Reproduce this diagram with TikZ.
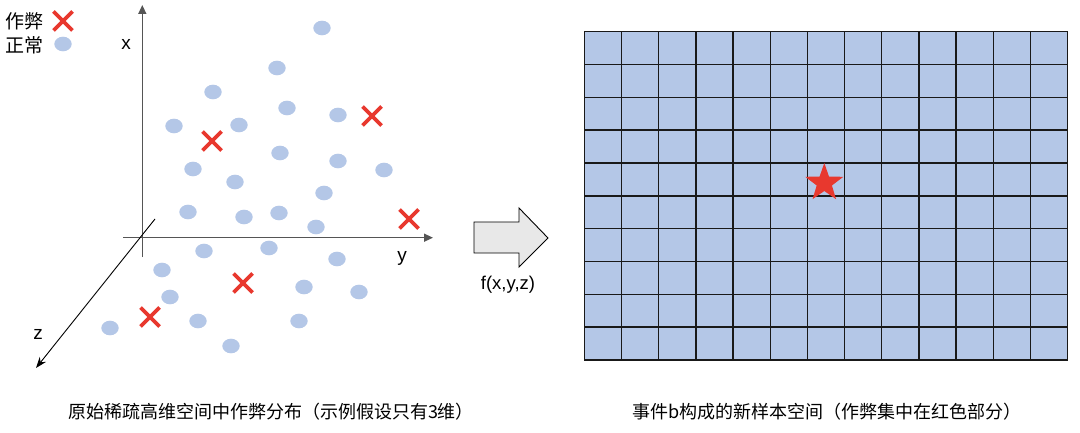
\documentclass[tikz,border=0pt]{standalone}
\usepackage{fontspec}
\setmainfont{Liberation Sans}
\newfontfamily\cjk{Noto Sans CJK SC}
\usetikzlibrary{shapes.geometric,arrows.meta}
\definecolor{dotblue}{HTML}{B4C7E7}
\definecolor{xred}{HTML}{E8382E}
\definecolor{axisgray}{HTML}{555555}
\definecolor{arrowfill}{HTML}{E8E8E8}
\tikzset{
  dotmark/.style={fill=dotblue},
  crossmark/.style={draw=xred,line width=3.6pt},
  axisline/.style={draw=axisgray,line width=1.4pt,-{Triangle[length=9pt,width=8pt]}},
  zaxis/.style={draw=black,line width=0.9pt,-{Stealth[length=11pt,width=8pt]}},
  gridline/.style={draw=black!90,line width=1.4pt},
  lbl/.style={inner sep=0pt,font=\fontsize{19}{20}\selectfont},
  captext/.style={inner sep=0pt,font=\cjk\fontsize{18}{20}\selectfont},
  legtext/.style={inner sep=0pt,font=\cjk\fontsize{19}{20}\selectfont},
}
\begin{document}
\begin{tikzpicture}[x=1pt,y=-1pt]
\useasboundingbox (0,0) rectangle (1080,433);
% legend
\node[legtext] (legX) at (24.5,21) {作弊};
\node[legtext] (legO) at (24.5,45) {正常};
\draw[crossmark] (53.5,11.5) -- (72.5,30.5) (53.5,30.5) -- (72.5,11.5);
\fill[dotmark] (63,44) ellipse (8.7 and 7.3);
% axes
\coordinate (orig) at (142.3,237.7);
\coordinate (xtop) at (142.3,5);
\coordinate (xbot) at (142.3,257);
\coordinate (yleft) at (123,237.7);
\coordinate (yend) at (433,237.7);
\coordinate (zstart) at (155,219);
\coordinate (zend) at (36,368);
\draw[axisline] (xbot) -- (xtop);
\draw[axisline] (yleft) -- (yend);
\draw[zaxis] (zstart) -- (zend);
\node[lbl] (xl) at (126,44) {x};
\node[lbl] (yl) at (402,258) {y};
\node[lbl] (zl) at (38,334) {z};
% normal points
\foreach \p in {(322,28),(277,68),(213,92),(287,108),(338,115),(174,126),(239,125),
  (280,153),(338,161),(384,170),(193,169),(235,182),(324,193),(188,212),(244,217),
  (279,213),(316,227),(204,251),(269,248),(337,259),(162,270),(304,287),(359,292),
  (170,297),(198,321),(299,321),(110,328),(231,346)}
  \fill[dotmark] \p ellipse (8.7 and 7.3);
% fraud points
\foreach \cx/\cy in {372/116,212/141,409/219,243/283,150/317}
  \draw[crossmark] (\cx-9.5,\cy-9.5) -- (\cx+9.5,\cy+9.5) (\cx-9.5,\cy+9.5) -- (\cx+9.5,\cy-9.5);
% transform arrow
\draw[fill=arrowfill,draw=black,line width=0.9pt]
  (474,222) -- (519,222) -- (519,208) -- (548,238) -- (519,267) -- (519,253) -- (474,253) -- cycle;
\coordinate (arrowc) at (510,238);
\node[lbl,font=\fontsize{18.5}{20}\selectfont] (fl) at (508,285) {f(x,y,z)};
% grid
\fill[dotblue] (584.3,31.7) rectangle (1067.7,360);
\foreach \i in {0,...,13}
  \draw[gridline] ({584.3+\i*37.185},31.7) -- ({584.3+\i*37.185},360);
\foreach \j in {0,...,10}
  \draw[gridline] (584.3,{31.7+\j*32.83}) -- (1067.7,{31.7+\j*32.83});
\node[star,star points=5,star point ratio=2.5,fill=xred,minimum size=40pt,inner sep=0pt] (st) at (824.3,183) {};
% captions
\node[captext] (capL) at (271,412) {原始稀疏高维空间中作弊分布（示例假设只有3维）};
\node[captext] (capR) at (827,412) {事件b构成的新样本空间（作弊集中在红色部分）};
\end{tikzpicture}
\end{document}
